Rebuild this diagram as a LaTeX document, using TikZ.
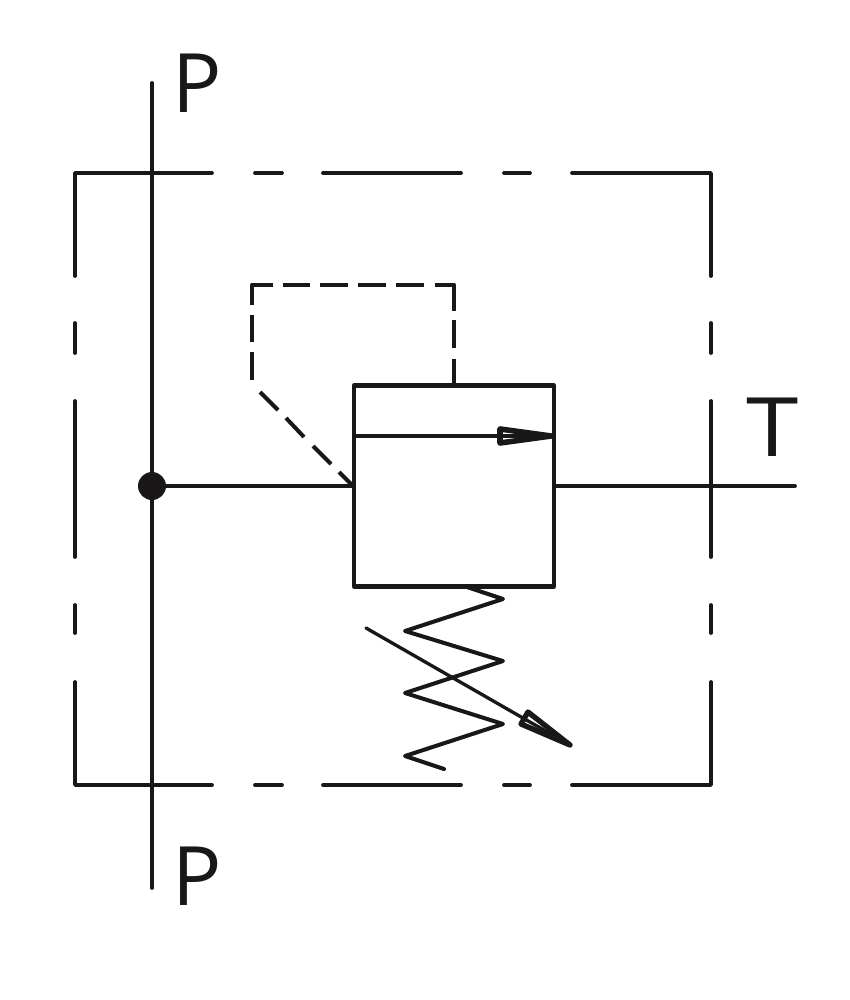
\documentclass[tikz,border=0pt]{standalone}
\usepackage{fontspec}
\setmainfont{Open Sans}
\definecolor{ink}{HTML}{1A1718}
\tikzset{
  ln/.style={line width=2.9pt,draw=ink,line cap=round,line join=round},
  frame ln/.style={ln,line width=2.8pt},
  spring ln/.style={ln,line width=3pt},
  pilot ln/.style={ln,line width=3pt,line cap=butt},
  lbl/.style={font=\fontsize{61.5}{62}\selectfont,text=ink,inner sep=0pt,anchor=base}
}
\begin{document}
\begin{tikzpicture}[x=0.75pt,y=-0.75pt]
\useasboundingbox[fill=white] (0,0) rectangle (850,1000);
% outer dash-dot frame
\draw[frame ln] (212,173) -- (75,173) -- (75,276);
\draw[frame ln] (75,323) -- (75,353);
\draw[frame ln] (75,401) -- (75,557);
\draw[frame ln] (75,605) -- (75,633);
\draw[frame ln] (75,682) -- (75,785) -- (212,785);
\draw[frame ln] (255,173) -- (282,173);
\draw[frame ln] (323,173) -- (461,173);
\draw[frame ln] (504,173) -- (530,173);
\draw[frame ln] (572,173) -- (711,173) -- (711,276);
\draw[frame ln] (711,323) -- (711,353);
\draw[frame ln] (711,401) -- (711,557);
\draw[frame ln] (711,605) -- (711,633);
\draw[frame ln] (711,682) -- (711,785) -- (572,785);
\draw[frame ln] (255,785) -- (282,785);
\draw[frame ln] (323,785) -- (461,785);
\draw[frame ln] (504,785) -- (530,785);
% valve box
\node[draw=ink,line width=3.3pt,line join=round,minimum width=150pt,minimum height=150.5pt,inner sep=0pt,outer sep=0pt] (valve) at (454,486) {};
\coordinate (pipeTop) at (152,83);
\coordinate (pipeBot) at (152,888);
\coordinate (tEnd) at (795,486);
\coordinate (arrowStart) at (355,436);
\coordinate (arrowTip) at (551,436);
% pipes
\draw[ln] (pipeTop) -- (pipeBot);
\node[circle,fill=ink,minimum size=21pt,inner sep=0pt] (junction) at (152,486) {};
\draw[ln] (junction) -- (valve.west);
\draw[ln] (valve.east) -- (tEnd);
% flow arrow: hollow head with the shaft running through it
\draw[ln,line width=4.2pt,fill=white] (500,429) -- (arrowTip) -- (500,443) -- cycle;
\draw[ln] (arrowStart) -- (arrowTip);
% pilot line
\draw[pilot ln] (453.5,386) -- (453.5,359);
\draw[pilot ln] (453.5,348) -- (453.5,320);
\draw[pilot ln] (453.5,311) -- (453.5,284.5) -- (435,284.5);
\draw[pilot ln] (424,284.5) -- (396,284.5);
\draw[pilot ln] (386,284.5) -- (358,284.5);
\draw[pilot ln] (348,284.5) -- (320,284.5);
\draw[pilot ln] (310,284.5) -- (283,284.5);
\draw[pilot ln] (273,284.5) -- (252,284.5) -- (252,305);
\draw[pilot ln] (252,315) -- (252,342);
\draw[pilot ln] (252,352) -- (252,380);
\draw[pilot ln] (260,392) -- (278,410);
\draw[pilot ln] (286,418) -- (304,437);
\draw[pilot ln] (313,446) -- (331,464);
\draw[pilot ln] (339,472) -- (352,485);
% spring
\draw[spring ln] (467,587) -- (503,599) -- (405,631) -- (503,661) -- (405,693) -- (503,724) -- (405,756) -- (444,769);
% adjust arrow
\draw[ln,line width=4pt,fill=white] (528,712) -- (570,745) -- (521,724) -- cycle;
\draw[ln,line width=2.5pt] (366,628) -- (570,745);
% labels
\node[lbl] (p1) at (197,112) {P};
\node[lbl] (p2) at (197,905) {P};
\node[lbl,xscale=1.15] (t) at (773,456) {T};
\end{tikzpicture}
\end{document}
